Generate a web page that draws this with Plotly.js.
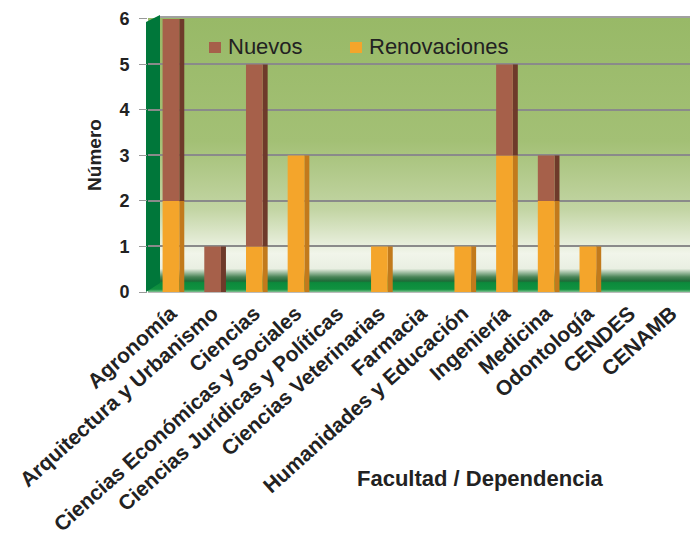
<!DOCTYPE html>
<html><head><meta charset="utf-8">
<script src="https://cdn.plot.ly/plotly-3.0.1.min.js"></script>
<style>html,body{margin:0;padding:0;background:#fff}#c{width:692px;height:543px}</style>
</head><body><div id="c"></div>
<script>
const categories = ["Agronomía","Arquitectura y Urbanismo","Ciencias","Ciencias Económicas y Sociales","Ciencias Jurídicas y Políticas","Ciencias Veterinarias","Farmacia","Humanidades y Educación","Ingeniería","Medicina","Odontología","CENDES","CENAMB"];
const renovaciones = [2,0,1,3,0,1,0,1,3,2,1,0,0];
const nuevos = [4,1,4,0,0,0,0,0,2,1,0,0,0];
const yTicks = [0,1,2,3,4,5,6];
const seriesNames = ["Nuevos","Renovaciones"];

const colRen = "#f4a52b", colRenSide = "#c27a1c";
const colNue = "#a6604a", colNueSide = "#6e3a2a";

const svg = `<svg xmlns="http://www.w3.org/2000/svg" width="100" height="100" preserveAspectRatio="none"><defs><linearGradient id="g" x1="0" y1="0" x2="0" y2="1"><stop offset="0" stop-color="#98b967"/><stop offset="0.45" stop-color="#a3c075"/><stop offset="0.7" stop-color="#c3d5a4"/><stop offset="0.86" stop-color="#f1f5ea"/><stop offset="0.915" stop-color="#e9efe2"/><stop offset="0.945" stop-color="#4a8558"/><stop offset="0.96" stop-color="#1f6a38"/><stop offset="0.966" stop-color="#0c8a3c"/><stop offset="0.99" stop-color="#109240"/><stop offset="1" stop-color="#7fbf8f"/></linearGradient></defs><rect width="100" height="100" fill="url(#g)"/></svg>`;
const bg = "data:image/svg+xml;base64," + btoa(svg);

const FF = "Liberation Sans, Arial, sans-serif";
const W = 692, H = 543, ML = 148, MR = 2, MT = 18, MB = 251;
const pw = W - ML - MR, ph = H - MT - MB;
const px = x => (x - ML) / pw;
const py = y => (H - MB - y) / ph;

const sideCommon = {type: "bar", width: 0.12, offset: 0.2, showlegend: false, hoverinfo: "skip"};
const traces = [
  Object.assign({}, sideCommon, {x: categories, y: renovaciones, base: 0, marker: {color: colRenSide}}),
  Object.assign({}, sideCommon, {x: categories, y: nuevos, base: renovaciones, marker: {color: colNueSide}}),
  {type: "bar", name: "Renovaciones", x: categories, y: renovaciones, base: 0, width: 0.4, offset: -0.2, marker: {color: colRen}, showlegend: false},
  {type: "bar", name: "Nuevos", x: categories, y: nuevos, base: renovaciones, width: 0.4, offset: -0.2, marker: {color: colNue}, showlegend: false}
];

const legendItems = [
  {name: seriesNames[0], color: colNue, sq: 209, tx: 226},
  {name: seriesNames[1], color: colRen, sq: 350, tx: 367}
];

const shapes = [
  {type: "path", xref: "paper", yref: "paper", path: `M ${px(146)} 0 L ${px(160)} ${py(283)} L ${px(160)} ${py(15)} L ${px(146)} ${py(22)} Z`, fillcolor: "#00773a", line: {width: 0}, layer: "below"},
  {type: "line", xref: "paper", yref: "paper", x0: px(160), x1: 1, y0: py(17), y1: py(17), line: {color: "#a0a0a0", width: 2}, layer: "below"}
];
const annotations = [
  {text: "Facultad / Dependencia", xref: "paper", yref: "paper", x: px(480), y: py(478), showarrow: false, xanchor: "center", yanchor: "middle", font: {family: FF, size: 22, color: "#222", weight: "bold"}}
];
legendItems.forEach(it => {
  shapes.push({type: "rect", xref: "paper", yref: "paper", x0: px(it.sq), x1: px(it.sq + 12), y0: py(53), y1: py(42), fillcolor: it.color, line: {width: 0}});
  annotations.push({text: it.name, xref: "paper", yref: "paper", x: px(it.tx), y: py(46), showarrow: false, xanchor: "left", yanchor: "middle", font: {family: FF, size: 22, color: "#222"}});
});

const layout = {
  width: W, height: H,
  margin: {l: ML, r: MR, t: MT, b: MB},
  paper_bgcolor: "#fff",
  plot_bgcolor: "rgba(0,0,0,0)",
  barmode: "overlay",
  font: {family: FF, color: "#222"},
  showlegend: false,
  images: [{source: bg, xref: "paper", yref: "paper", x: 0, y: 1, sizex: 1, sizey: 1, sizing: "stretch", layer: "below", xanchor: "left", yanchor: "top"}],
  shapes: shapes,
  annotations: annotations,
  xaxis: {
    type: "category", range: [-0.55, 12.45], tickangle: -42,
    tickfont: {family: FF, size: 21, color: "#222", weight: "bold"},
    showgrid: false, zeroline: false, showline: true, linecolor: "#bbb", linewidth: 1,
    ticks: "", fixedrange: true
  },
  yaxis: {
    range: [0, 6.02], tickvals: yTicks, ticktext: yTicks.map(String),
    tickfont: {family: FF, size: 18, color: "#222", weight: "bold"},
    showgrid: true, gridcolor: "#8a8a8a", gridwidth: 2,
    zeroline: false, showline: false, ticks: "outside", ticklen: 8, tickcolor: "#999", ticklabelstandoff: 6,
    title: {text: "Número", font: {family: FF, size: 19, color: "#222", weight: "bold"}, standoff: 12}
  }
};

Plotly.newPlot("c", traces, layout, {displayModeBar: false, staticPlot: true});
</script>
</body></html>
